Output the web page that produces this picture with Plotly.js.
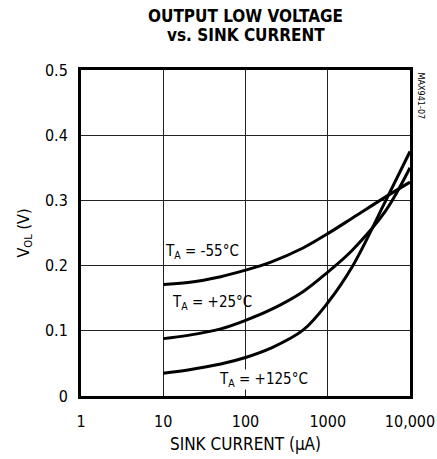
<!DOCTYPE html>
<html>
<head>
<meta charset="utf-8">
<script src="https://cdn.plot.ly/plotly-3.0.1.min.js"></script>
<style>html,body{margin:0;padding:0;background:#fff;}#chart{width:437px;height:459px;}</style>
</head>
<body>
<div id="chart"></div>
<script>
// Data
const sinkCurrent = [10, 20, 50, 100, 200, 500, 1000, 2000, 5000, 10000];
const vol_m55 = [0.171, 0.174, 0.183, 0.193, 0.205, 0.227, 0.249, 0.273, 0.305, 0.328];
const vol_p25 = [0.088, 0.093, 0.103, 0.116, 0.132, 0.160, 0.190, 0.224, 0.283, 0.350];
const vol_p125 = [0.035, 0.040, 0.049, 0.059, 0.073, 0.101, 0.143, 0.199, 0.298, 0.375];
const seriesNames = ["T<sub>A</sub> = -55°C", "T<sub>A</sub> = +25°C", "T<sub>A</sub> = +125°C"];
const titleLines = ["OUTPUT LOW VOLTAGE", "vs. SINK CURRENT"];
const xTickVals = [1, 10, 100, 1000, 10000];
const xTickText = ["1", "10", "100", "1000", "10,000"];
const yTickVals = [0, 0.1, 0.2, 0.3, 0.4, 0.5];
const yTickText = ["0", "0.1", "0.2", "0.3", "0.4", "0.5"];

const FONT = "'DejaVu Sans Condensed', 'Liberation Sans Narrow', 'Arial Narrow', sans-serif";
const lineStyle = {color: "#000", width: 3, shape: "spline", smoothing: 1.0};

const traces = [vol_m55, vol_p25, vol_p125].map((v, i) => ({
  x: sinkCurrent, y: v, type: "scatter", mode: "lines",
  name: seriesNames[i], line: lineStyle, hoverinfo: "skip"
}));

const labelFont = {family: FONT, size: 15, color: "#000"};
const titleFont = {family: FONT, size: 17, color: "#000", weight: "bold"};

const layout = {
  width: 437, height: 459,
  margin: {l: 81, r: 27, t: 70, b: 63},
  paper_bgcolor: "#fff", plot_bgcolor: "#fff",
  showlegend: false,
  font: {family: FONT, size: 16, color: "#000"},
  xaxis: {
    type: "log", range: [0, 4],
    tickvals: xTickVals, ticktext: xTickText,
    showgrid: true, gridcolor: "#222", gridwidth: 1,
    showline: true, linecolor: "#000", linewidth: 3, mirror: true,
    ticks: "", ticklabelstandoff: 9, zeroline: false,
    ticklabeloverflow: "allow",
    tickfont: {family: FONT, size: 16},
    title: {text: "SINK CURRENT (μA)", font: {family: FONT, size: 17}, standoff: 8}
  },
  yaxis: {
    range: [0, 0.5],
    tickvals: yTickVals, ticktext: yTickText,
    showgrid: true, gridcolor: "#222", gridwidth: 1,
    showline: true, linecolor: "#000", linewidth: 3, mirror: true,
    ticks: "", ticklabelstandoff: 7, zeroline: false,
    ticklabeloverflow: "allow",
    tickfont: {family: FONT, size: 16},
    title: {text: "V<sub>OL</sub> (V)", font: {family: FONT, size: 16}, standoff: 12}
  },
  annotations: [
    {x: 0.5, y: 1.1656, xref: "paper", yref: "paper", text: "<b>" + titleLines[0] + "</b>", showarrow: false,
     xanchor: "center", yanchor: "middle", font: titleFont},
    {x: 0.5, y: 1.107, xref: "paper", yref: "paper", text: "<b>" + titleLines[1] + "</b>", showarrow: false,
     xanchor: "center", yanchor: "middle", font: titleFont},
    {x: 0.995, y: 0.221, xref: "x", yref: "y", text: seriesNames[0], showarrow: false,
     xanchor: "left", yanchor: "middle", font: labelFont},
    {x: 1.077, y: 0.143, xref: "x", yref: "y", text: seriesNames[1], showarrow: false,
     xanchor: "left", yanchor: "middle", font: labelFont},
    {x: 1.66, y: 0.026, xref: "x", yref: "y", text: seriesNames[2], showarrow: false,
     xanchor: "left", yanchor: "middle", bgcolor: "#fff", borderpad: 0, font: labelFont},
    {x: 1.0, y: 1.0, xref: "paper", yref: "paper", text: "MAX941-07", showarrow: false,
     textangle: 90, xanchor: "left", yanchor: "top", xshift: 4, font: {family: FONT, size: 9}}
  ]
};

Plotly.newPlot("chart", traces, layout, {displayModeBar: false, staticPlot: true});
</script>
</body>
</html>
